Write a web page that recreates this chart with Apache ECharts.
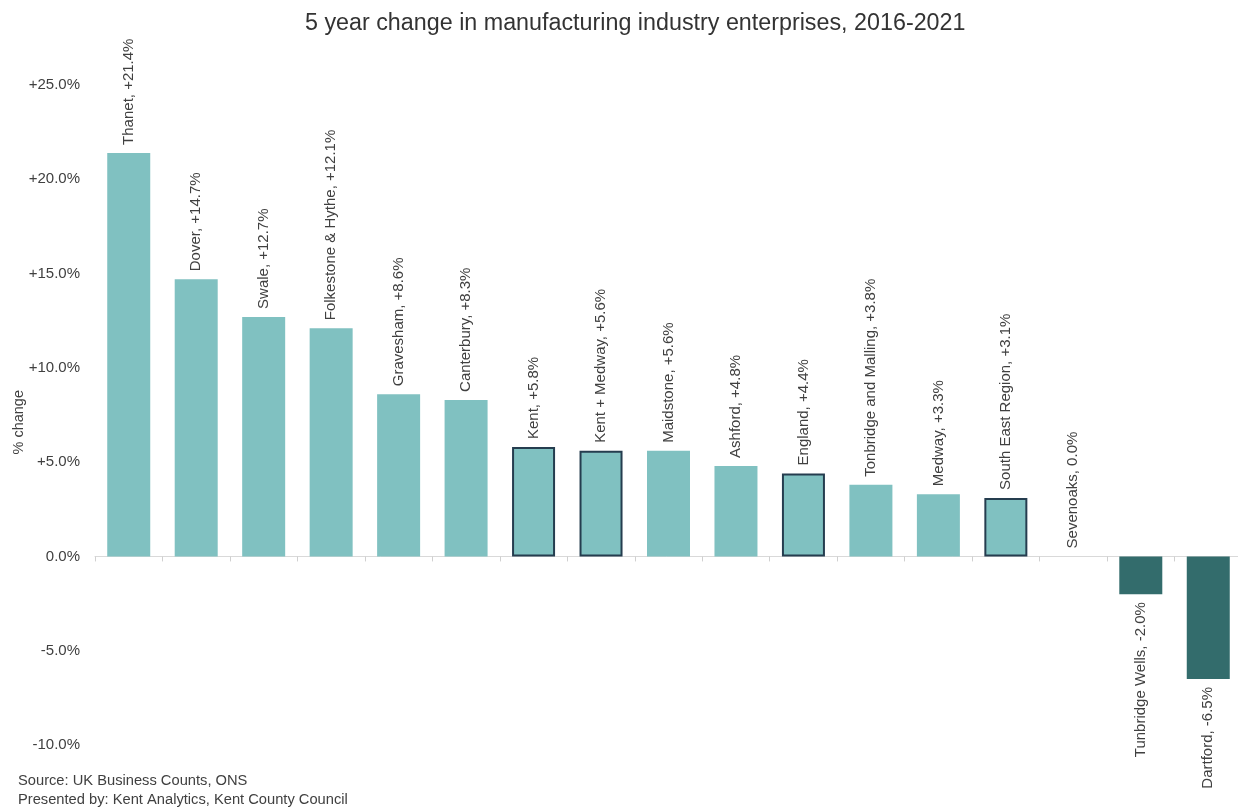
<!DOCTYPE html>
<html>
<head>
    <meta charset="utf-8">
    <title>ECharts</title>
    <script src="https://cdn.jsdelivr.net/npm/echarts@6/dist/echarts.min.js"></script>
</head>
<body style="margin:0">
    <div id="main" style="width: 1238px;height:809px;"></div>
    <script type="text/javascript">

// data
var areas = ['Thanet', 'Dover', 'Swale', 'Folkestone & Hythe', 'Gravesham', 'Canterbury',
    'Kent', 'Kent + Medway', 'Maidstone', 'Ashford', 'England', 'Tonbridge and Malling',
    'Medway', 'South East Region', 'Sevenoaks', 'Tunbridge Wells', 'Dartford'];
var changes = [21.4, 14.7, 12.7, 12.1, 8.6, 8.3, 5.8, 5.6, 5.6, 4.8, 4.4, 3.8, 3.3, 3.1, 0.0, -2.0, -6.5];
// comparator areas get an outline
var comparators = ['Kent', 'Kent + Medway', 'England', 'South East Region'];
var yTicks = [-10, 25, 5]; // min, max, step

var font = 'Liberation Sans, Arial, sans-serif';

var myChart = echarts.init(document.getElementById('main'));

var barData = [];
for (var i = 0; i < areas.length; i++) {
    var v = changes[i];
    var item = { value: v, itemStyle: { color: v < 0 ? '#336c6c' : '#80c1c1' } };
    if (comparators.indexOf(areas[i]) > -1) {
        item.itemStyle.borderColor = '#253d4f';
        item.itemStyle.borderWidth = 2;
    }
    if (v < 0) {
        item.label = { position: 'bottom', align: 'right' };
    }
    barData.push(item);
}

var option = {
    backgroundColor: '#ffffff',
    title: {
        text: '5 year change in manufacturing industry enterprises, 2016-2021',
        left: 300,
        top: 7,
        textStyle: { color: '#333333', fontSize: 23.3, fontWeight: 'normal', fontFamily: font }
    },
    graphic: [
        { type: 'text', left: 18, top: 773, style: { text: 'Source: UK Business Counts, ONS', fill: '#404040', font: '14.7px ' + font } },
        { type: 'text', left: 18, top: 792, style: { text: 'Presented by: Kent Analytics, Kent County Council', fill: '#404040', font: '14.7px ' + font } },
        { type: 'text', left: 11, top: 390, rotation: Math.PI / 2, style: { text: '% change', fill: '#404040', font: '14.5px ' + font, align: 'center', verticalAlign: 'middle' } }
    ],
    grid: { left: 95, width: 1147, top: 85, bottom: 64, outerBoundsMode: 'none', containLabel: false },
    xAxis: {
        type: 'category',
        data: areas,
        axisLine: { onZero: true, lineStyle: { color: '#d9d9d9', width: 1 } },
        axisTick: { show: true, interval: 0, length: 5, lineStyle: { color: '#d0d0d0' } },
        axisLabel: { show: false }
    },
    yAxis: {
        type: 'value',
        min: yTicks[0],
        max: yTicks[1],
        interval: yTicks[2],
        axisLine: { show: false },
        axisTick: { show: false },
        splitLine: { show: false },
        axisLabel: {
            color: '#404040',
            fontSize: 15,
            fontFamily: font,
            margin: 15,
            formatter: function (v) {
                return (v > 0 ? '+' : '') + v.toFixed(1) + '%';
            }
        }
    },
    series: [{
        type: 'bar',
        data: barData,
        barWidth: 43,
        label: {
            show: true,
            position: 'top',
            rotate: 90,
            align: 'left',
            verticalAlign: 'middle',
            distance: 8,
            color: '#404040',
            fontSize: 15,
            fontFamily: font,
            formatter: function (p) {
                var v = p.value;
                return p.name + ', ' + (v > 0 ? '+' : '') + v.toFixed(1) + '%';
            }
        }
    }]
};

myChart.setOption(option);

    </script>
</body>
</html>
